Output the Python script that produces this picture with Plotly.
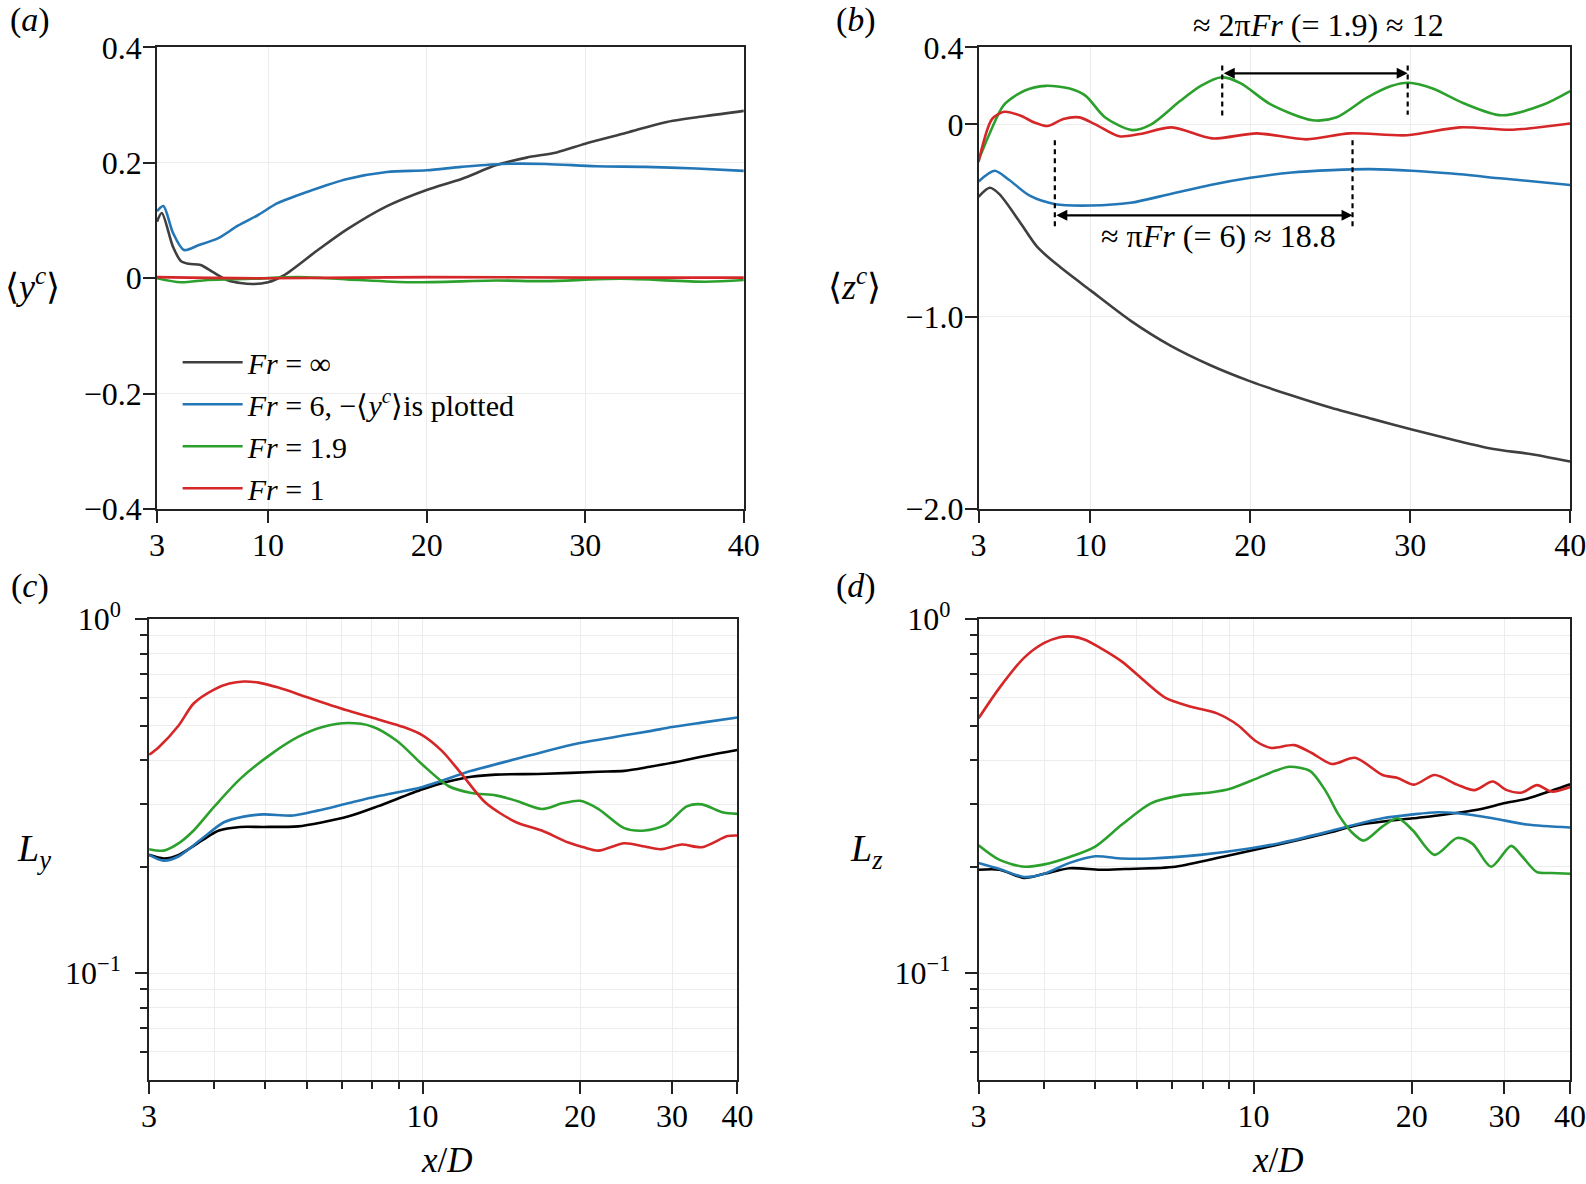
"""
Wake centre position and length scales vs x/D for several Froude numbers
"""
# Imports ---------------------------------------------------------------------
import plotly.graph_objects as go

# Data ------------------------------------------------------------------------
FR_NAMES = ["<i>Fr</i> = ∞", "<i>Fr</i> = 6, −⟨<i>y<sup>c</sup></i>⟩is plotted",
            "<i>Fr</i> = 1.9", "<i>Fr</i> = 1"]

# (a) <y^c>
a_inf_x = [3, 3.3, 4.0, 4.5, 5, 5.75, 6.5, 7.5, 9, 10, 11, 13.1, 15, 17.5, 20,
           22.2, 24.4, 26.3, 28.2, 30, 32.6, 35, 37.6, 40]
a_inf_y = [0.098, 0.113, 0.055, 0.03, 0.025, 0.023, 0.011, -0.004, -0.01, -0.007,
           0.005, 0.048, 0.085, 0.125, 0.153, 0.172, 0.196, 0.209, 0.218, 0.233,
           0.252, 0.27, 0.281, 0.29]
a_fr6_x = [3, 3.4, 4.0, 4.7, 5.6, 6.9, 8.1, 9.4, 10.6, 12.5, 15, 17.5, 20, 22.2,
           24.7, 27.5, 30.7, 33.8, 37, 40]
a_fr6_y = [0.116, 0.125, 0.079, 0.049, 0.057, 0.07, 0.091, 0.11, 0.13, 0.15,
           0.172, 0.184, 0.187, 0.193, 0.198, 0.198, 0.194, 0.193, 0.19, 0.186]
a_fr19_x = [3, 4.5, 6.2, 9, 11.9, 15, 19, 24.4, 27.5, 32.2, 37.6, 40]
a_fr19_y = [0, -0.007, -0.003, -0.001, 0.002, -0.002, -0.007, -0.004, -0.005,
            -0.001, -0.006, -0.003]
a_fr1_x = [3, 5, 10, 20, 30, 40]
a_fr1_y = [0.002, 0.001, 0.0, 0.002, 0.001, 0.001]

# (b) <z^c>
b_inf_x = [3, 3.7, 4.3, 5.6, 6.7, 8.1, 10, 12.5, 15, 17.5, 20, 22.6, 25.1, 27.6,
           30.1, 32.6, 35.1, 37.6, 40]
b_inf_y = [-0.377, -0.33, -0.363, -0.51, -0.64, -0.742, -0.863, -1.02, -1.15,
           -1.252, -1.336, -1.41, -1.475, -1.531, -1.586, -1.638, -1.686, -1.715,
           -1.753]
b_fr6_x = [3, 4, 4.9, 6.2, 7.8, 10, 12.5, 15, 17.5, 20, 22.6, 25.1, 27.5, 30.1,
           32.6, 35.8, 40]
b_fr6_y = [-0.297, -0.241, -0.288, -0.371, -0.415, -0.422, -0.408, -0.362,
           -0.315, -0.278, -0.25, -0.238, -0.233, -0.241, -0.256, -0.282, -0.315]
b_fr19_x = [3, 3.7, 4.6, 5.9, 7.2, 8.7, 9.7, 10.9, 12.6, 13.8, 15.6, 16.9, 18.2,
            19.4, 21.3, 23.9, 25.4, 27.3, 28.8, 29.9, 31.4, 33.3, 35.7, 38.3, 40]
b_fr19_y = [-0.186, -0.046, 0.102, 0.176, 0.2, 0.186, 0.148, 0.037, -0.03, 0.0,
            0.121, 0.2, 0.245, 0.213, 0.102, 0.021, 0.037, 0.139, 0.199, 0.216,
            0.186, 0.111, 0.047, 0.102, 0.173]
b_fr1_x = [3, 3.85, 4.6, 5.6, 6.5, 7.3, 8.3, 9.3, 10.3, 11.8, 13.1, 15.1, 17.6,
           20.4, 23.5, 26.2, 29.8, 33.1, 36.4, 40]
b_fr1_y = [-0.195, 0.028, 0.065, 0.046, 0.009, -0.009, 0.028, 0.036, 0.0, -0.062,
           -0.05, -0.016, -0.073, -0.047, -0.078, -0.047, -0.057, -0.016, -0.028,
           0.004]

# (c) L_y
c_inf_x = [3, 3.2, 3.42, 3.8, 4.08, 4.48, 4.97, 5.78, 6.44, 7.2, 8.2, 10, 11.2,
           12.4, 13.8, 17.2, 21.7, 24.3, 27.2, 30, 34.7, 40]
c_inf_y = [0.216, 0.211, 0.216, 0.238, 0.253, 0.259, 0.259, 0.26, 0.267, 0.277,
           0.296, 0.331, 0.348, 0.359, 0.364, 0.366, 0.371, 0.373, 0.383, 0.393,
           0.411, 0.427]
c_fr6_x = [3, 3.2, 3.42, 3.8, 4.17, 4.55, 4.97, 5.66, 6.3, 7.2, 8.2, 10, 12.4,
           15.4, 17.2, 20, 24.3, 27.2, 30, 34.7, 40]
c_fr6_y = [0.216, 0.208, 0.214, 0.241, 0.267, 0.277, 0.281, 0.279, 0.288, 0.302,
           0.316, 0.336, 0.373, 0.406, 0.424, 0.447, 0.47, 0.483, 0.496, 0.512,
           0.528]
c_fr19_x = [3, 3.2, 3.42, 3.65, 4.0, 4.48, 5.11, 5.78, 6.44, 7.2, 8.0, 8.94, 10,
            11.2, 12.4, 13.8, 15.1, 16.9, 18.5, 20, 21.7, 24.3, 26.6, 29.2, 32,
            34.2, 37.4, 40]
c_fr19_y = [0.224, 0.222, 0.233, 0.253, 0.296, 0.354, 0.414, 0.465, 0.496, 0.509,
            0.498, 0.453, 0.388, 0.338, 0.323, 0.318, 0.307, 0.291, 0.302, 0.307,
            0.291, 0.257, 0.253, 0.263, 0.296, 0.3, 0.285, 0.282]
c_fr1_x = [3, 3.13, 3.42, 3.65, 4.0, 4.27, 4.55, 4.86, 5.3, 6.04, 7.2, 8.2, 9.2,
           10, 10.9, 11.9, 13.2, 15.1, 16.9, 19, 20.3, 21.7, 24.3, 26.6, 28.5,
           31.3, 34.2, 38.3, 40]
c_fr1_y = [0.414, 0.435, 0.502, 0.578, 0.634, 0.658, 0.667, 0.662, 0.641, 0.601,
           0.552, 0.522, 0.496, 0.47, 0.424, 0.364, 0.303, 0.267, 0.253, 0.234,
           0.227, 0.222, 0.233, 0.228, 0.224, 0.231, 0.227, 0.244, 0.245]

# (d) L_z
d_inf_x = [3, 3.29, 3.66, 4.0, 4.47, 5.11, 5.7, 7.1, 8.84, 11.0, 13.7, 16.0,
           20.1, 22.4, 26.8, 29.9, 33.1, 36.9, 40]
d_inf_y = [0.196, 0.196, 0.186, 0.191, 0.198, 0.196, 0.197, 0.2, 0.214, 0.23,
           0.248, 0.263, 0.274, 0.279, 0.29, 0.302, 0.311, 0.328, 0.342]
d_fr6_x = [3, 3.29, 3.66, 4.0, 4.47, 5.0, 5.62, 6.38, 7.92, 9.82, 11.2, 13.7,
           15.3, 17.6, 20.1, 22.4, 24.4, 28.5, 33.1, 40]
d_fr6_y = [0.205, 0.197, 0.187, 0.191, 0.205, 0.214, 0.211, 0.211, 0.216, 0.225,
           0.233, 0.25, 0.261, 0.274, 0.281, 0.285, 0.283, 0.274, 0.263, 0.258]
d_fr19_x = [3, 3.29, 3.66, 4.0, 4.47, 5.0, 5.62, 6.38, 7.26, 8.28, 9.03, 10.1,
            11.0, 11.7, 12.8, 13.7, 14.5, 15.3, 16.2, 17.6, 18.8, 20.1, 22.1,
            24.4, 26.1, 28.3, 30.9, 32.4, 34.6, 36.9, 40]
d_fr19_y = [0.23, 0.209, 0.2, 0.203, 0.213, 0.228, 0.263, 0.302, 0.318, 0.324,
            0.332, 0.354, 0.373, 0.383, 0.373, 0.328, 0.281, 0.252, 0.237, 0.26,
            0.274, 0.253, 0.216, 0.241, 0.232, 0.2, 0.229, 0.214, 0.193, 0.192,
            0.191]
d_fr1_x = [3, 3.29, 3.66, 4.0, 4.28, 4.53, 4.78, 5.11, 5.62, 6.22, 6.79, 7.61,
           8.52, 9.34, 10.09, 10.8, 11.95, 12.9, 14.1, 15.6, 17.6, 18.8, 20.2,
           22.1, 24.4, 26.3, 28.5, 30.3, 32.4, 34.6, 36.9, 40]
d_fr1_y = [0.525, 0.641, 0.778, 0.857, 0.89, 0.893, 0.875, 0.83, 0.759, 0.667,
           0.601, 0.566, 0.542, 0.502, 0.453, 0.433, 0.441, 0.419, 0.39, 0.406,
           0.363, 0.356, 0.341, 0.363, 0.341, 0.329, 0.348, 0.329, 0.324, 0.34,
           0.326, 0.336]

# wavelength markers in (b): x start, x end, arrow y, dotted-line y range
up_arrow = [18.24, 29.84, 0.265]
up_dots = [0.306, 0.036]
low_arrow = [7.77, 26.39, -0.473]
low_dots = [-0.083, -0.545]

# Style -----------------------------------------------------------------------
FONT = "Liberation Serif, Times New Roman, serif"
GREY, BLACK = "#3f3f3f", "#000000"
BLUE, GREEN, RED = "#2477b6", "#2ca02c", "#d62728"
LW = 2.6
GRID = "#ececec"

fig = go.Figure()


def add_line(x, y, color, ax, name, legend=False):
    fig.add_trace(go.Scatter(
        x=x, y=y, mode="lines", name=name, showlegend=legend,
        line=dict(color=color, width=LW, shape="spline", smoothing=0.8),
        xaxis="x" + ax, yaxis="y" + ax,
    ))


panels = [
    ("", [(a_inf_x, a_inf_y, GREY), (a_fr6_x, a_fr6_y, BLUE),
          (a_fr19_x, a_fr19_y, GREEN), (a_fr1_x, a_fr1_y, RED)]),
    ("2", [(b_inf_x, b_inf_y, GREY), (b_fr6_x, b_fr6_y, BLUE),
           (b_fr19_x, b_fr19_y, GREEN), (b_fr1_x, b_fr1_y, RED)]),
    ("3", [(c_inf_x, c_inf_y, BLACK), (c_fr6_x, c_fr6_y, BLUE),
           (c_fr19_x, c_fr19_y, GREEN), (c_fr1_x, c_fr1_y, RED)]),
    ("4", [(d_inf_x, d_inf_y, BLACK), (d_fr6_x, d_fr6_y, BLUE),
           (d_fr19_x, d_fr19_y, GREEN), (d_fr1_x, d_fr1_y, RED)]),
]
for ax, series in panels:
    for (x, y, c), name in zip(series, FR_NAMES):
        add_line(x, y, c, ax, name, legend=(ax == ""))

# Axes ------------------------------------------------------------------------
common = dict(
    showline=True, linecolor="#222", linewidth=1.5, mirror=True,
    ticks="outside", ticklen=12, tickwidth=1.5, tickcolor="#222",
    showgrid=True, gridcolor=GRID, gridwidth=1, zeroline=False,
    automargin=False, ticklabelstandoff=-5, ticklabeloverflow="allow",
    tickfont=dict(family=FONT, size=32, color="black"),
)
lin_x = dict(common, range=[3, 40], tickvals=[3, 10, 20, 30, 40])
log_x = dict(common, type="log", range=[0.4771, 1.6021],
             tickvals=[3, 10, 20, 30, 40], ticktext=["3", "10", "20", "30", "40"],
             minor=dict(tickvals=[4, 5, 6, 7, 8, 9], ticks="outside", ticklen=7,
                        tickcolor="#222", showgrid=True, gridcolor=GRID))
log_y = dict(common, type="log", range=[-1.301, 0], tickvals=[0.1, 1],
             ticktext=["10<sup>−1</sup>", "10<sup>0</sup>"], ticklabelstandoff=8,
             minor=dict(tickvals=[0.06, 0.07, 0.08, 0.09, 0.2, 0.3, 0.4, 0.5, 0.6,
                                  0.7, 0.8, 0.9],
                        ticks="outside", ticklen=7, tickcolor="#222",
                        showgrid=True, gridcolor=GRID))

dom_l, dom_r = [0.099, 0.469], [0.617, 0.990]
dom_cl = [0.094, 0.465]
dom_top, dom_bot = [0.570, 0.960], [0.088, 0.477]

fig.update_layout(
    xaxis=dict(lin_x, domain=dom_l, anchor="y"),
    yaxis=dict(common, domain=dom_top, anchor="x", range=[-0.4, 0.4],
               tickvals=[-0.4, -0.2, 0, 0.2, 0.4],
               ticktext=["−0.4", "−0.2", "0", "0.2", "0.4"]),
    xaxis2=dict(lin_x, domain=dom_r, anchor="y2"),
    yaxis2=dict(common, domain=dom_top, anchor="x2", range=[-2.0, 0.4],
                tickvals=[-2.0, -1.0, 0, 0.4],
                ticktext=["−2.0", "−1.0", "0", "0.4"]),
    xaxis3=dict(log_x, domain=dom_cl, anchor="y3"),
    yaxis3=dict(log_y, domain=dom_bot, anchor="x3"),
    xaxis4=dict(log_x, domain=dom_r, anchor="y4"),
    yaxis4=dict(log_y, domain=dom_bot, anchor="x4"),
)

# Annotations -----------------------------------------------------------------
ann = []


def text(x, y, s, size=34, xref="paper", yref="paper", xanchor="center"):
    ann.append(dict(x=x, y=y, xref=xref, yref=yref, text=s, showarrow=False,
                    xanchor=xanchor, yanchor="middle",
                    font=dict(family=FONT, size=size, color="black")))


W, H = 1586, 1184
for lbl, px, py in [("a", 30, 20), ("b", 856, 20), ("c", 30, 586), ("d", 856, 586)]:
    text(px / W, 1 - py / H, "(<i>%s</i>)" % lbl)
text(32 / W, 1 - 284 / H, "⟨<i>y<sup>c</sup></i>⟩", size=36)
text(854 / W, 1 - 284 / H, "⟨<i>z<sup>c</sup></i>⟩", size=36)
text(34 / W, 1 - 851 / H, "<i>L<sub>y</sub></i>", size=38)
text(866 / W, 1 - 851 / H, "<i>L<sub>z</sub></i>", size=38)
text(447 / W, 1 - 1160 / H, "<i>x</i>/<i>D</i>", size=35)
text(1278 / W, 1 - 1160 / H, "<i>x</i>/<i>D</i>", size=35)

text(0.5 * (up_arrow[0] + up_arrow[1]) + 0.2, 1 - 25 / H,
     "≈ 2π<i>Fr</i> (= 1.9) ≈ 12", size=32, xref="x2")
text(0.5 * (low_arrow[0] + low_arrow[1]) + 0.9, low_arrow[2] - 0.105,
     "≈ π<i>Fr</i> (= 6) ≈ 18.8", size=32, xref="x2", yref="y2")

for x0, x1, y in [up_arrow, low_arrow]:
    ann.append(dict(x=x1, y=y, ax=x0, ay=y, xref="x2", yref="y2", axref="x2",
                    ayref="y2", text="", showarrow=True, arrowhead=2,
                    arrowside="end+start", arrowsize=1, arrowwidth=2.2,
                    arrowcolor="black", standoff=0, startstandoff=0))

shapes = []
for xs, ys in [(up_arrow[:2], up_dots), (low_arrow[:2], low_dots)]:
    for xv in xs:
        shapes.append(dict(type="line", xref="x2", yref="y2", x0=xv, x1=xv,
                           y0=ys[0], y1=ys[1],
                           line=dict(color="black", width=2.2, dash="5px,4px")))
# the right dotted line in the upper marker stops a bit higher
shapes[1]["y1"] = 0.05

fig.update_layout(
    width=W, height=H, margin=dict(l=0, r=0, t=0, b=0),
    paper_bgcolor="white", plot_bgcolor="white",
    font=dict(family=FONT, size=32, color="black"),
    annotations=ann, shapes=shapes,
    legend=dict(x=0.112, y=0.716, xanchor="left", yanchor="top",
                bgcolor="rgba(0,0,0,0)", itemwidth=60, tracegroupgap=0,
                font=dict(family=FONT, size=30, color="black")),
)

fig.write_html(
    "out.html",
    config={"displayModeBar": False},
    post_script="document.body.style.margin='0px';"
                "document.body.style.overflow='hidden';",
)
